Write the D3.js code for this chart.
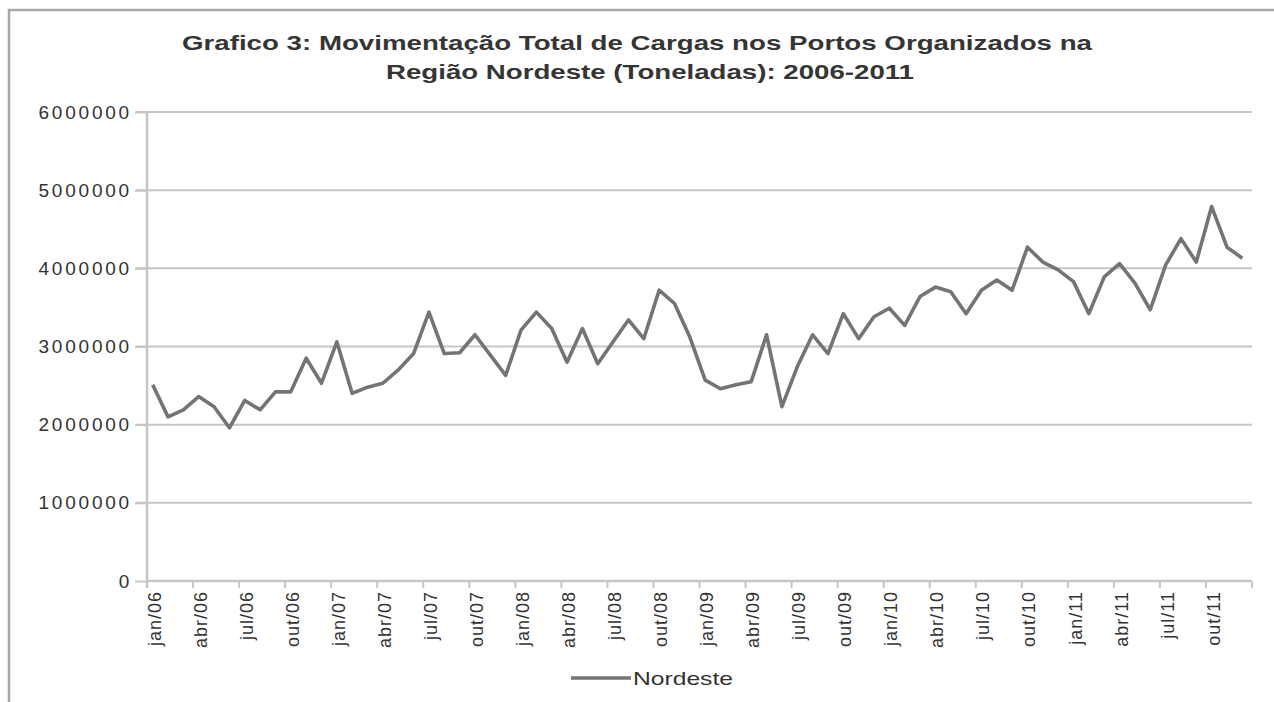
<!DOCTYPE html>
<html>
<head>
<meta charset="utf-8">
<script src="https://cdn.jsdelivr.net/npm/d3@7"></script>
<style>
  body { margin: 0; background: #fff; }
  svg { display: block; font-family: "Liberation Sans", Arial, sans-serif; }
</style>
</head>
<body>
<svg id="chart" width="1274" height="702"></svg>
<script>
const monthNames = ["jan", "fev", "mar", "abr", "mai", "jun", "jul", "ago", "set", "out", "nov", "dez"];
const years = ["06", "07", "08", "09", "10", "11"];
const months = years.flatMap(y => monthNames.map(m => m + "/" + y));

// toneladas, jan/06 .. dez/11
const nordeste = [
  2510000, 2100000, 2190000, 2360000, 2230000, 1960000, 2310000, 2190000, 2420000, 2420000, 2850000, 2530000,
  3060000, 2400000, 2480000, 2530000, 2700000, 2910000, 3440000, 2910000, 2920000, 3150000, 2890000, 2630000,
  3210000, 3440000, 3230000, 2800000, 3230000, 2780000, 3060000, 3340000, 3100000, 3720000, 3550000, 3120000,
  2570000, 2460000, 2510000, 2550000, 3150000, 2230000, 2740000, 3150000, 2910000, 3420000, 3100000, 3380000,
  3490000, 3270000, 3640000, 3760000, 3700000, 3420000, 3720000, 3850000, 3720000, 4270000, 4080000, 3980000,
  3830000, 3420000, 3890000, 4060000, 3810000, 3470000, 4040000, 4380000, 4080000, 4790000, 4270000, 4130000
];
const yTicks = [0, 1000000, 2000000, 3000000, 4000000, 5000000, 6000000];
const titleLines = [
  "Grafico 3: Movimentação  Total de Cargas nos Portos Organizados na",
  "Região Nordeste (Toneladas): 2006-2011"
];
const seriesName = "Nordeste";

const svg = d3.select("#chart");
const plotLeft = 147, plotRight = 1252, plotTop = 112, plotBottom = 581;
const gridColor = "#c6c6c6";
const lineColor = "#747474";

// outer chart border (top and left visible)
svg.append("path")
  .attr("d", "M9,702 L9,10 L1274,10")
  .attr("fill", "none")
  .attr("stroke", "#a9a9a9")
  .attr("stroke-width", 2.5);

const x = d3.scaleBand().domain(months).range([plotLeft, plotRight]);
const y = d3.scaleLinear().domain([0, 6000000]).range([plotBottom, plotTop]);

// title
svg.append("g").selectAll("text")
  .data(titleLines)
  .enter().append("text")
  .attr("x", (d, i) => i === 0 ? 637 : 650)
  .attr("y", (d, i) => 50 + i * 29)
  .attr("text-anchor", "middle")
  .attr("font-size", 21)
  .attr("font-weight", "bold")
  .attr("fill", "#353535")
  .attr("textLength", (d, i) => i === 0 ? 910 : 528)
  .attr("lengthAdjust", "spacingAndGlyphs")
  .text(d => d);

// gridlines
svg.append("g").selectAll("line")
  .data(yTicks.filter(d => d > 0))
  .enter().append("line")
  .attr("x1", 136).attr("x2", plotRight)
  .attr("y1", d => y(d)).attr("y2", d => y(d))
  .attr("stroke", gridColor)
  .attr("stroke-width", 2);

// y axis
const yAxis = d3.axisLeft(y).tickValues(yTicks).tickSize(12).tickPadding(3).tickFormat(d3.format("d"));
const gy = svg.append("g")
  .attr("transform", `translate(${plotLeft}, 0)`)
  .call(yAxis);
gy.select(".domain").remove();
gy.selectAll(".tick line").attr("stroke", gridColor).attr("stroke-width", 2);
gy.selectAll(".tick text")
  .attr("font-size", 19)
  .attr("font-family", "Liberation Sans, Arial, sans-serif")
  .attr("letter-spacing", 2.8)
  .attr("fill", "#333");
svg.append("line")
  .attr("x1", plotLeft).attr("x2", plotLeft)
  .attr("y1", plotTop).attr("y2", plotBottom + 7)
  .attr("stroke", gridColor).attr("stroke-width", 2.5);

// x axis: ticks between categories every 3 months, labels at category centres
svg.append("line")
  .attr("x1", plotLeft).attr("x2", plotRight)
  .attr("y1", plotBottom).attr("y2", plotBottom)
  .attr("stroke", gridColor).attr("stroke-width", 2.5);

const tickMonths = months.filter((d, i) => i % 3 === 0);
svg.append("g").selectAll("line")
  .data(tickMonths.concat(["end"]))
  .enter().append("line")
  .attr("x1", d => d === "end" ? plotRight : x(d))
  .attr("x2", d => d === "end" ? plotRight : x(d))
  .attr("y1", plotBottom).attr("y2", plotBottom + 7)
  .attr("stroke", gridColor).attr("stroke-width", 2);

svg.append("g").selectAll("text")
  .data(tickMonths)
  .enter().append("text")
  .attr("transform", d => `translate(${x(d) + x.bandwidth() / 2 + 6}, ${plotBottom + 10}) rotate(-90)`)
  .attr("text-anchor", "end")
  .attr("font-size", 18)
  .attr("letter-spacing", 1)
  .attr("fill", "#333")
  .text(d => d);

// series line
const line = d3.line()
  .x((d, i) => x(months[i]) + x.bandwidth() / 2 - 2)
  .y(d => y(d));

svg.append("path")
  .datum(nordeste)
  .attr("d", line)
  .attr("fill", "none")
  .attr("stroke", lineColor)
  .attr("stroke-width", 3.6)
  .attr("stroke-linejoin", "round");

// legend
const legend = svg.append("g").attr("transform", "translate(571, 678)");
legend.append("line")
  .attr("x1", 0).attr("x2", 60)
  .attr("y1", 0).attr("y2", 0)
  .attr("stroke", lineColor).attr("stroke-width", 3.6);
legend.append("text")
  .attr("x", 62).attr("y", 7)
  .attr("font-size", 19)
  .attr("fill", "#333")
  .attr("textLength", 100)
  .attr("lengthAdjust", "spacingAndGlyphs")
  .text(seriesName);
</script>
</body>
</html>
